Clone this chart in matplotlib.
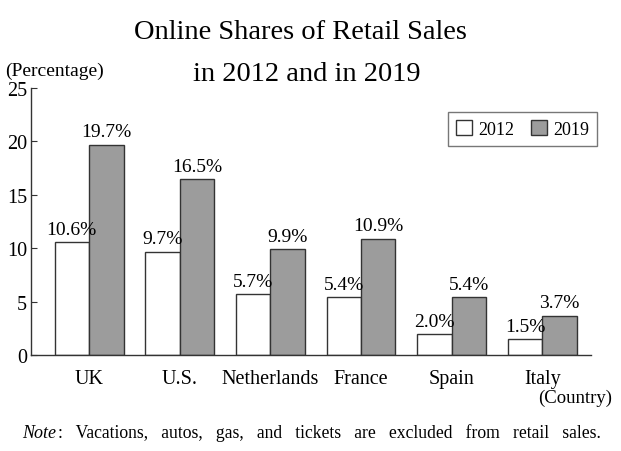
import matplotlib
matplotlib.use("Agg")
import matplotlib.pyplot as plt
import numpy as np

countries = ["UK", "U.S.", "Netherlands", "France", "Spain", "Italy"]
v2012 = [10.6, 9.7, 5.7, 5.4, 2.0, 1.5]
v2019 = [19.7, 16.5, 9.9, 10.9, 5.4, 3.7]
years = ["2012", "2019"]
yticks = [0, 5, 10, 15, 20, 25]

plt.rcParams['font.family'] = ['Liberation Serif', 'DejaVu Serif']

fig = plt.figure(figsize=(6.21, 4.52), dpi=100)
ax = fig.add_axes([0.050, 0.212, 0.902, 0.591])

x = np.arange(len(countries))
w = 0.38
edge = "#333333"
b1 = ax.bar(x - w/2, v2012, w, color="white", edgecolor=edge, linewidth=1.0, label=years[0])
b2 = ax.bar(x + w/2, v2019, w, color="#9c9c9c", edgecolor=edge, linewidth=1.0, label=years[1])

for bars, vals in ((b1, v2012), (b2, v2019)):
    for r, v in zip(bars, vals):
        ax.text(r.get_x() + r.get_width()/2, v + 0.4, f"{v:.1f}%", ha="center", va="bottom", fontsize=14)

ax.set_xlim(-0.64, 5.54)
ax.set_ylim(0, 25)
ax.set_yticks(yticks)
ax.set_yticklabels([str(t) for t in yticks], fontsize=14.5)
ax.tick_params(axis="y", direction="in", length=4, pad=3, color=edge)
ax.set_xticks(x)
ax.set_xticklabels(countries, fontsize=14.5)
ax.tick_params(axis="x", length=0, pad=10)
for s in ("top", "right"):
    ax.spines[s].set_visible(False)
for s in ("left", "bottom"):
    ax.spines[s].set_color(edge)
    ax.spines[s].set_linewidth(1.0)

leg = ax.legend(loc="upper right", bbox_to_anchor=(1.027, 0.945), fontsize=13, frameon=True,
                fancybox=False, edgecolor="#555555", handlelength=0.9, handleheight=0.9,
                ncol=2, columnspacing=0.9, handletextpad=0.35, borderpad=0.45)
leg.get_frame().set_linewidth(1.0)

fig.text(0.483, 0.928, "Online Shares of Retail Sales", ha="center", va="center", fontsize=20.5)
fig.text(0.494, 0.836, "in 2012 and in 2019", ha="center", va="center", fontsize=20.5)
fig.text(0.008, 0.843, "(Percentage)", ha="left", va="center", fontsize=14)
fig.text(0.985, 0.118, "(Country)", ha="right", va="center", fontsize=13.5)
fig.text(0.035, 0.042, "Note", ha="left", va="center", fontsize=13, style="italic")
fig.text(0.093, 0.042, ":   Vacations,   autos,   gas,   and   tickets   are   excluded   from   retail   sales.",
         ha="left", va="center", fontsize=12.7)

fig.savefig("out.png", dpi=100)
